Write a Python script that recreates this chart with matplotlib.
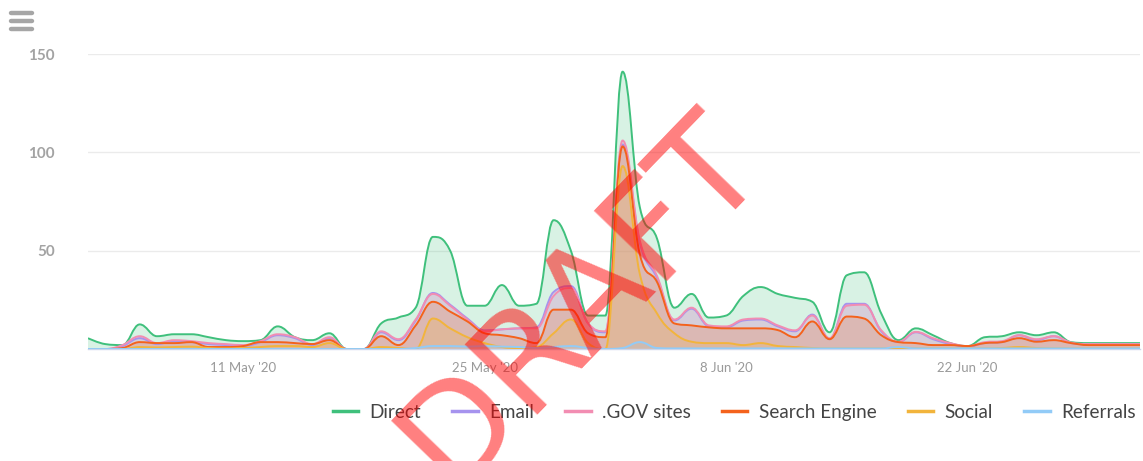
import numpy as np
import pandas as pd
import matplotlib
matplotlib.use("Agg")
import matplotlib.pyplot as plt
import matplotlib.dates as mdates
from matplotlib.path import Path
from matplotlib.patches import PathPatch
from matplotlib.lines import Line2D

# daily values, 2 May 2020 .. 2 Jul 2020
dates = pd.date_range("2020-05-02", "2020-07-02", freq="D")

direct = [5.5, 2.5, 2, 12.5, 6.5, 7.5, 7.5, 6, 4.5, 4, 4.5, 11.5, 6, 4.5, 8, 0,
          0, 13, 16, 21, 57, 50, 22, 22, 32.5, 22, 23, 65.5, 50, 17, 17, 141,
          72, 56, 21, 28, 16, 17, 27, 31.5, 28, 26, 24, 8.5, 37.5, 39, 18, 4.5,
          10.5, 7, 3, 1.5, 6, 6.5, 8.5, 7, 8.5, 3.5, 3, 3, 3, 3]
email = [0, 0, 1.5, 5.5, 2.5, 4, 3.5, 2.5, 2, 1.5, 3.5, 7, 5.5, 2, 5.5, 0,
         0, 8.5, 4.5, 14.5, 28.5, 22.5, 15.5, 9.5, 10, 10.5, 11, 29, 32, 13, 8.5, 104,
         54, 36, 14.5, 20.5, 11.5, 11, 14.5, 15, 11.5, 9, 17.5, 5, 23, 23, 9, 3.5,
         8.5, 5, 2.5, 1.2, 3, 3.5, 7, 4.5, 6.5, 3, 2.3, 2.3, 2.3, 2.3]
gov = [0, 0, 2, 6.5, 3, 4.5, 4, 3, 2.5, 2, 4, 7.5, 6, 2.5, 6, 0,
       0, 9, 5, 15, 28, 22, 15, 9, 10, 10.5, 10.5, 27, 31, 13, 9, 106,
       55, 37, 15, 21, 12, 11.5, 15, 15.5, 12, 9.5, 17, 5.5, 22, 22.5, 9.5, 3.7,
       8.7, 5.5, 3, 1.5, 3.5, 4, 7, 5, 6.5, 3.3, 2.5, 2.5, 2.5, 2.5]
search = [0, 0, 0.5, 3.5, 3, 3, 3.5, 1, 1, 1.5, 3.5, 3.5, 3, 2.5, 4.5, 0,
          0, 6.5, 2, 12, 24, 19, 14, 8, 7, 5.5, 3, 20, 20, 8, 6, 103,
          48, 34, 13, 12, 11, 10.5, 10.5, 10.5, 9.6, 6, 14, 5, 16.5, 15.5, 7, 3.5,
          3, 2, 2, 1.5, 3, 3.5, 5.5, 3.7, 4.5, 3, 2, 2, 2, 2]
social = [0, 0, 0, 1, 0.8, 1, 1.2, 0.5, 0.3, 0.5, 1, 1.5, 1.5, 1, 3, 0,
          0, 1, 0.5, 0, 15.5, 10.5, 6, 3, 1, 0.5, 1, 8, 15, 3, 0, 93,
          38, 18, 8, 3.7, 3, 3, 2, 3, 1.5, 1, 0.5, 0.3, 0.3, 0.3, 0.3, 0.5,
          0.3, 0.3, 0.3, 0.3, 0.3, 0.5, 1, 0.5, 0.3, 0.3, 0.3, 0.3, 0.3, 0.3]
referrals = [0, 0, 0, 0, 0, 0, 0, 0, 0, 0, 0, 0, 0, 0, 0, 0,
             0, 0, 0, 0.5, 1.5, 1.5, 1.2, 1.5, 1.2, 1, 0.5, 1, 1.5, 0.5, 0, 0.5,
             3.5, 0.5, 0.3, 0.3, 0.3, 0.3, 0.3, 0.3, 0.3, 0.3, 0.3, 0.3, 0.3, 0.3, 0.3, 1,
             0.3, 0.3, 0.3, 0.3, 0.3, 0.3, 0.3, 0.3, 0.3, 0.3, 0.3, 0.3, 0.3, 0.3]

names = ["Direct", "Email", ".GOV sites", "Search Engine", "Social", "Referrals"]
values = [direct, email, gov, search, social, referrals]
colors = ["#3fc07c", "#a693ee", "#f28db2", "#f4621c", "#f2b43c", "#92cbf7"]


def spline_path(xs, ys, smoothing=1.5):
    # highcharts-style areaspline control points (no false extremes)
    n = len(xs)
    left = [None] * n
    right = [None] * n
    denom = smoothing + 1
    for i in range(1, n - 1):
        px, py = xs[i], ys[i]
        lx, ly = xs[i - 1], ys[i - 1]
        nx, ny = xs[i + 1], ys[i + 1]
        lcx = (smoothing * px + lx) / denom
        lcy = (smoothing * py + ly) / denom
        rcx = (smoothing * px + nx) / denom
        rcy = (smoothing * py + ny) / denom
        corr = (rcy - lcy) * (rcx - px) / (rcx - lcx) + py - rcy
        lcy += corr
        rcy += corr
        if lcy > ly and lcy > py:
            lcy = max(ly, py)
            rcy = 2 * py - lcy
        elif lcy < ly and lcy < py:
            lcy = min(ly, py)
            rcy = 2 * py - lcy
        if rcy > ny and rcy > py:
            rcy = max(ny, py)
            lcy = 2 * py - rcy
        elif rcy < ny and rcy < py:
            rcy = min(ny, py)
            lcy = 2 * py - rcy
        left[i] = (lcx, lcy)
        right[i] = (rcx, rcy)
    verts = [(xs[0], ys[0])]
    codes = [Path.MOVETO]
    for i in range(1, n):
        rc = right[i - 1] if right[i - 1] else (xs[i - 1], ys[i - 1])
        lc = left[i] if left[i] else (xs[i], ys[i])
        verts += [rc, lc, (xs[i], ys[i])]
        codes += [Path.CURVE4] * 3
    return verts, codes


fig = plt.figure(figsize=(11.43, 4.61), dpi=100)
ax = fig.add_axes([88 / 1143, 112 / 461, 1052 / 1143, 295 / 461])

xs = mdates.date2num(dates)
for name, vals, col in zip(names, values, colors):
    verts, codes = spline_path(list(xs), list(vals))
    area_v = verts + [(xs[-1], 0), (xs[0], 0), (xs[0], 0)]
    area_c = codes + [Path.LINETO, Path.LINETO, Path.CLOSEPOLY]
    ax.add_patch(PathPatch(Path(area_v, area_c), facecolor=col, alpha=0.2,
                           edgecolor="none", zorder=2))
    ax.add_patch(PathPatch(Path(verts, codes), facecolor="none", edgecolor=col,
                           lw=1.4, zorder=3))

ax.set_xlim(xs[0], xs[-1])
ax.set_ylim(0, 150)

for s in ["top", "right", "left"]:
    ax.spines[s].set_visible(False)
ax.spines["bottom"].set_color("#ccd6eb")
ax.spines["bottom"].set_linewidth(1)

ax.set_yticks([50, 100, 150])
ax.yaxis.grid(True, color="#ebebeb", lw=1)
ax.set_axisbelow(True)
ax.tick_params(axis="y", length=0, pad=24, labelsize=11, labelcolor="#a3a3a3")
for lab in ax.get_yticklabels():
    lab.set_fontfamily("Lato")
    lab.set_fontweight("bold")

ticks = pd.to_datetime(["2020-05-11", "2020-05-25", "2020-06-08", "2020-06-22"])
ax.set_xticks(mdates.date2num(ticks))
ax.xaxis.set_major_formatter(mdates.DateFormatter("%-d %b '%y"))
ax.tick_params(axis="x", length=0, pad=9, labelsize=9.5, labelcolor="#9a9a9a")
for lab in ax.get_xticklabels():
    lab.set_fontfamily("Lato")

# menu icon
for yy in [13, 21, 29]:
    fig.add_artist(Line2D([11 / 1143, 32 / 1143], [1 - yy / 461] * 2, lw=3.2,
                          color="#a6a6a6", solid_capstyle="round"))

handles = [Line2D([], [], color=c, lw=2.5) for c in colors]
fig.legend(handles, names, loc="center", bbox_to_anchor=(734 / 1143, 49 / 461),
           ncol=6, frameon=False, handlelength=1.35, handletextpad=0.6,
           columnspacing=1.65, prop={"family": "Lato", "size": 13.6},
           labelcolor="#444444")

fig.text(580 / 1143, 1 - 300 / 461, "DRAFT", rotation=46, color="red", alpha=0.5,
         fontsize=100, ha="center", va="center", rotation_mode="anchor", zorder=10)

fig.savefig("out.png", dpi=100)
